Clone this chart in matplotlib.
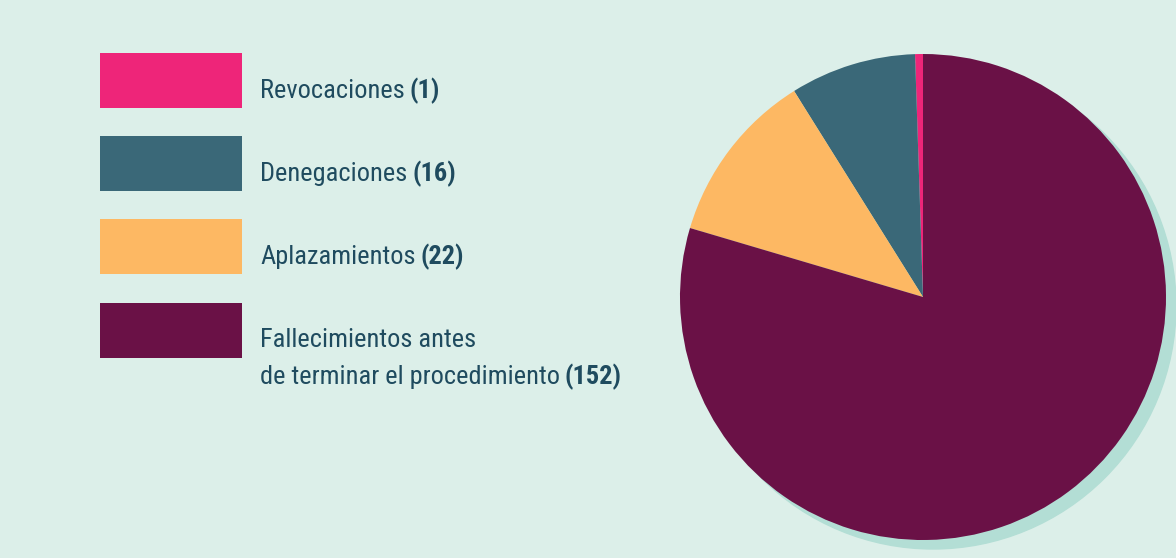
import matplotlib
matplotlib.use("Agg")
import matplotlib.pyplot as plt
from matplotlib import font_manager
from matplotlib.patches import Circle, Rectangle

labels = ["Revocaciones", "Denegaciones", "Aplazamientos",
          "Fallecimientos antes\nde terminar el procedimiento"]
values = [1, 16, 22, 152]
colors = ["#ee2579", "#3a6878", "#fdb863", "#6a1146"]

bg = "#dcefe9"
shadow = "#b3ded5"
txt = "#1f4b5f"

names = {f.name for f in font_manager.fontManager.ttflist}
family = "DejaVu Sans"
for cand in ["Roboto Condensed", "Liberation Sans Narrow", "Open Sans Condensed",
             "Roboto", "Liberation Sans"]:
    if cand in names:
        family = cand
        break
plt.rcParams["font.family"] = [family, "DejaVu Sans"]

W, H = 1176, 558
fig = plt.figure(figsize=(W / 100, H / 100), dpi=100, facecolor=bg)
ax = fig.add_axes([0, 0, 1, 1])
ax.set_facecolor(bg)

cx, cy, r = 923, H - 297, 243
ax.add_patch(Circle((cx + 10, cy - 9), r, color=shadow, zorder=0))
ax.pie(values, colors=colors, startangle=90, counterclock=True,
       center=(cx, cy), radius=r, wedgeprops=dict(linewidth=0), frame=True)

ax.set_xlim(0, W)
ax.set_ylim(0, H)
ax.set_aspect("equal")
ax.axis("off")

box_tops = [53, 136, 219, 303]
text_y = [91, 174, 257, 340]
renderer = fig.canvas.get_renderer()
for lab, v, c, top, ty in zip(labels, values, colors, box_tops, text_y):
    ax.add_patch(Rectangle((100, H - top - 55), 142, 55, color=c, lw=0))
    lines = lab.split("\n")
    for i, line in enumerate(lines):
        y = H - ty - i * 37
        t = ax.text(260, y, line, fontsize=19, color=txt, va="center", ha="left")
        if i == len(lines) - 1:
            bb = t.get_window_extent(renderer)
            x_end = ax.transData.inverted().transform((bb.x1, bb.y0))[0]
            ax.text(x_end + 5, y, "(%d)" % v, fontsize=19, color=txt,
                    fontweight="bold", va="center", ha="left")

fig.savefig("out.png", dpi=100, facecolor=bg)
